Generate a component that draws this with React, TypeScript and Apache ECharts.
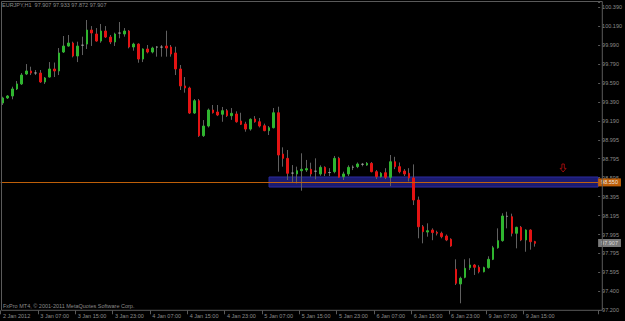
import React, { useEffect, useRef } from 'react';
import * as echarts from 'echarts';

// Hourly EURJPY bars from 2 Jan 2012 23:00 to 9 Jan 2012 17:00
const opens = [
  99.388, 99.441, 99.462, 99.536, 99.589, 99.694, 99.726, 99.705, 99.704, 99.610,
  99.662, 99.747, 99.726, 99.926, 99.989, 100.021, 99.884, 99.998, 100.010, 100.158,
  100.116, 100.042, 100.148, 100.084, 100.032, 100.126, 100.116, 100.148, 99.979, 100.010,
  99.852, 99.958, 99.926, 99.978, 99.978, 99.989, 99.979, 99.916, 99.747, 99.568,
  99.546, 99.282, 99.412, 99.043, 99.145, 99.314, 99.293, 99.269, 99.307, 99.254,
  99.272, 99.198, 99.166, 99.113, 99.219, 99.190, 99.148, 99.096, 99.127, 99.285,
  98.849, 98.804, 98.648, 98.639, 98.673, 98.681, 98.688, 98.668, 98.639, 98.709,
  98.654, 98.663, 98.804, 98.610, 98.639, 98.710, 98.716, 98.741, 98.733, 98.751,
  98.663, 98.610, 98.652, 98.604, 98.768, 98.716, 98.670, 98.646, 98.597, 98.364,
  98.082, 98.026, 98.047, 98.023, 98.013, 97.984, 97.950, 97.633, 97.478, 97.548,
  97.650, 97.678, 97.654, 97.607, 97.650, 97.738, 97.860, 97.935, 98.192, 98.188,
  98.013, 98.076, 97.942, 98.047, 97.925,
];
const closes = [
  99.441, 99.462, 99.536, 99.589, 99.683, 99.726, 99.704, 99.705, 99.610, 99.652,
  99.747, 99.726, 99.916, 99.989, 100.021, 99.884, 99.989, 99.998, 100.158, 100.127,
  100.042, 100.148, 100.084, 100.032, 100.116, 100.126, 100.148, 99.979, 100.010, 99.852,
  99.958, 99.926, 99.968, 99.978, 99.978, 99.968, 99.905, 99.747, 99.568, 99.546,
  99.282, 99.412, 99.043, 99.145, 99.314, 99.286, 99.261, 99.307, 99.254, 99.279,
  99.190, 99.163, 99.113, 99.216, 99.190, 99.145, 99.096, 99.127, 99.285, 98.839,
  98.804, 98.646, 98.648, 98.673, 98.688, 98.695, 98.639, 98.668, 98.709, 98.646,
  98.654, 98.804, 98.604, 98.639, 98.709, 98.710, 98.744, 98.741, 98.751, 98.663,
  98.610, 98.646, 98.604, 98.768, 98.716, 98.663, 98.639, 98.597, 98.364, 98.082,
  98.030, 98.040, 98.020, 98.013, 97.977, 97.942, 97.879, 97.485, 97.538, 97.643,
  97.678, 97.654, 97.607, 97.650, 97.738, 97.860, 97.935, 98.195, 98.192, 98.013,
  98.076, 97.942, 98.047, 97.924, 97.907,
];
const lows = [
  99.367, 99.430, 99.427, 99.525, 99.578, 99.683, 99.683, 99.683, 99.600, 99.589,
  99.657, 99.662, 99.683, 99.916, 99.982, 99.870, 99.820, 99.894, 99.958, 99.990,
  100.035, 100.024, 100.074, 100.010, 99.990, 100.071, 100.088, 99.965, 99.940, 99.813,
  99.820, 99.912, 99.912, 99.877, 99.877, 99.877, 99.877, 99.683, 99.525, 99.497,
  99.272, 99.272, 99.030, 99.030, 99.130, 99.276, 99.250, 99.190, 99.240, 99.210,
  99.180, 99.156, 99.085, 99.096, 99.180, 99.130, 99.090, 99.050, 99.120, 98.663,
  98.716, 98.575, 98.547, 98.540, 98.462, 98.660, 98.610, 98.582, 98.620, 98.617,
  98.617, 98.646, 98.600, 98.575, 98.617, 98.680, 98.700, 98.720, 98.725, 98.656,
  98.585, 98.600, 98.585, 98.510, 98.690, 98.646, 98.617, 98.560, 98.311, 97.960,
  97.907, 97.977, 97.940, 97.990, 97.960, 97.930, 97.870, 97.467, 97.274, 97.538,
  97.625, 97.573, 97.590, 97.600, 97.640, 97.730, 97.850, 97.924, 98.065, 97.980,
  97.854, 97.930, 97.818, 97.840, 97.872,
];
const highs = [
  99.454, 99.472, 99.560, 99.620, 99.704, 99.799, 99.771, 99.736, 99.736, 99.662,
  99.820, 99.815, 99.968, 100.095, 100.106, 100.035, 100.035, 100.088, 100.264, 100.200,
  100.179, 100.222, 100.200, 100.106, 100.130, 100.243, 100.179, 100.158, 100.024, 100.018,
  99.965, 100.000, 99.982, 99.989, 100.000, 100.151, 100.000, 99.982, 99.789, 99.662,
  99.560, 99.430, 99.430, 99.208, 99.330, 99.367, 99.367, 99.346, 99.325, 99.335,
  99.300, 99.285, 99.190, 99.226, 99.250, 99.230, 99.170, 99.145, 99.335, 99.349,
  98.920, 98.892, 98.733, 98.716, 98.857, 98.787, 98.758, 98.804, 98.730, 98.720,
  98.700, 98.829, 98.820, 98.663, 98.730, 98.730, 98.760, 98.755, 98.765, 98.765,
  98.680, 98.660, 98.700, 98.839, 98.820, 98.760, 98.690, 98.700, 98.740, 98.400,
  98.100, 98.118, 98.065, 98.040, 98.030, 98.000, 97.960, 97.738, 97.555, 97.738,
  97.749, 97.689, 97.675, 97.660, 97.770, 97.880, 98.065, 98.224, 98.240, 98.220,
  98.082, 98.090, 98.055, 98.055, 97.933,
];

const xTickLabels = [
  '2 Jan 2012', '3 Jan 07:00', '3 Jan 15:00', '3 Jan 23:00', '4 Jan 07:00',
  '4 Jan 15:00', '4 Jan 23:00', '5 Jan 07:00', '5 Jan 15:00', '5 Jan 23:00',
  '6 Jan 07:00', '6 Jan 15:00', '6 Jan 23:00', '9 Jan 07:00', '9 Jan 15:00',
];
const yTickLabels = [
  '97.200', '97.400', '97.595', '97.795', '97.995', '98.195', '98.395', '98.595', '98.795',
  '98.995', '99.190', '99.390', '99.590', '99.790', '99.990', '100.190', '100.390',
];

const slotCount = 128; // visible bar slots incl. right shift
const barsPerLabel = 8;
const yMin = 97.2;
const yMax = 100.454;
const yStep = 0.2;

const supportLevel = 98.55;
const supportLabel = '98.550';
const bidPrice = 97.907;
const bidLabel = '97.907';
const zoneTop = 98.607;
const zoneBottom = 98.501;
const zoneStartIndex = 57;
const arrowIndex = 120;
const arrowPrice = 98.702;

const titleText = 'EURJPY,H1  97.907 97.933 97.872 97.907';
const copyrightText = 'FxPro MT4, \u00A9 2001-2011 MetaQuotes Software Corp.';

const FONT = '"Liberation Sans", Arial, sans-serif';
const TEXT_GRAY = '#8c8c8c';
const FRAME_GRAY = '#5a5a5a';

export default function App() {
  const ref = useRef<HTMLDivElement>(null);

  useEffect(() => {
    if (!ref.current) return;
    const chart = echarts.init(ref.current, null, { renderer: 'svg' });

    const categories = Array.from({ length: slotCount }, (_, i) => String(i));
    const wickData = opens.map((o, i) => [o, closes[i], lows[i], highs[i]]);
    const bodyData = opens.map((o, i) => {
      const c = closes[i];
      return [o, c, Math.min(o, c), Math.max(o, c)];
    });

    const option: any = {
      animation: false,
      backgroundColor: '#000000',
      textStyle: { fontFamily: FONT },
      title: {
        text: titleText,
        left: 2,
        top: 2,
        padding: 0,
        textStyle: { color: TEXT_GRAY, fontSize: 5.5, fontWeight: 'normal', fontFamily: FONT },
      },
      grid: { left: -0.65, right: 22.75, top: 2, bottom: 10.7, containLabel: false },
      xAxis: {
        type: 'category',
        data: categories,
        boundaryGap: true,
        axisLine: { show: false },
        axisTick: {
          show: true,
          length: 4,
          interval: (idx: number) => idx % barsPerLabel === 0 && idx / barsPerLabel < xTickLabels.length,
          lineStyle: { color: FRAME_GRAY },
        },
        axisLabel: {
          show: true,
          interval: 0,
          align: 'left',
          margin: 3,
          color: TEXT_GRAY,
          fontSize: 5.5,
          fontFamily: FONT,
          formatter: (_v: string, idx: number) =>
            idx % barsPerLabel === 0 && xTickLabels[idx / barsPerLabel] ? xTickLabels[idx / barsPerLabel] : '',
        },
        splitLine: { show: false },
      },
      yAxis: {
        type: 'value',
        position: 'right',
        min: yMin,
        max: yMax,
        interval: yStep,
        scale: true,
        axisLine: { show: false },
        axisTick: { show: true, length: 2, lineStyle: { color: FRAME_GRAY } },
        axisLabel: {
          color: TEXT_GRAY,
          fontSize: 5.5,
          fontFamily: FONT,
          margin: 4,
          formatter: (v: number) => {
            const k = Math.round((v - yMin) / yStep);
            if (Math.abs(v - (yMin + k * yStep)) > 1e-6) return '';
            return yTickLabels[k] ?? '';
          },
        },
        splitLine: { show: false },
      },
      graphic: [
        {
          type: 'rect',
          z: 100,
          silent: true,
          shape: { x: 1.5, y: 1.5, width: 600.8, height: 308.8 },
          style: { fill: 'none', stroke: FRAME_GRAY, lineWidth: 1 },
        },
        {
          type: 'text',
          left: 3,
          top: 302.5,
          silent: true,
          style: { text: copyrightText, fill: TEXT_GRAY, fontSize: 5.5, fontFamily: FONT },
        },
      ],
      series: [
        {
          name: 'wicks',
          type: 'candlestick',
          data: wickData,
          barWidth: 1,
          z: 2,
          itemStyle: {
            color: '#606060',
            color0: '#606060',
            borderColor: '#606060',
            borderColor0: '#606060',
            borderColorDoji: '#606060',
            borderWidth: 1,
          },
          markArea: {
            silent: true,
            itemStyle: { color: '#1b1b70', borderColor: '#2c2ca0', borderWidth: 1 },
            data: [[{ xAxis: zoneStartIndex, yAxis: zoneTop }, { yAxis: zoneBottom }]],
          },
          markLine: {
            silent: true,
            symbol: ['none', 'none'],
            data: [
              {
                yAxis: supportLevel,
                lineStyle: { color: '#c8640a', width: 1, type: 'solid', opacity: 0.95 },
                label: {
                  show: true,
                  position: 'end',
                  distance: 0,
                  formatter: supportLabel,
                  backgroundColor: '#c8640a',
                  color: '#f0f0f0',
                  fontSize: 5.5,
                  fontFamily: FONT,
                  padding: [1, 3, 1, 3],
                },
              },
              {
                yAxis: bidPrice,
                lineStyle: { color: 'rgba(0,0,0,0)', width: 0 },
                label: {
                  show: true,
                  position: 'end',
                  distance: 0,
                  formatter: bidLabel,
                  backgroundColor: '#7a7a7a',
                  color: '#d8d8d8',
                  fontSize: 5.5,
                  fontFamily: FONT,
                  padding: [1, 3, 1, 3],
                },
              },
            ],
          },
        },
        {
          name: 'bodies',
          type: 'candlestick',
          data: bodyData,
          barWidth: 2,
          z: 3,
          itemStyle: {
            color: '#2fb52f',
            color0: '#e41313',
            borderColor: '#2fb52f',
            borderColor0: '#e41313',
            borderColorDoji: '#9a9a9a',
            borderWidth: 1,
          },
        },
        {
          name: 'arrow',
          type: 'scatter',
          z: 4,
          data: [[arrowIndex, arrowPrice]],
          symbol: 'path://M3,0 L7,0 L7,6 L10,6 L5,11 L0,6 L3,6 Z',
          symbolSize: [6, 8],
          itemStyle: { color: 'rgba(0,0,0,0)', borderColor: '#e41313', borderWidth: 0.8 },
          silent: true,
        },
      ],
    };

    chart.setOption(option);
    return () => chart.dispose();
  }, []);

  return (
    <div
      ref={ref}
      style={{ position: 'absolute', left: 0, top: 0, width: 625, height: 321, background: '#000' }}
    />
  );
}
